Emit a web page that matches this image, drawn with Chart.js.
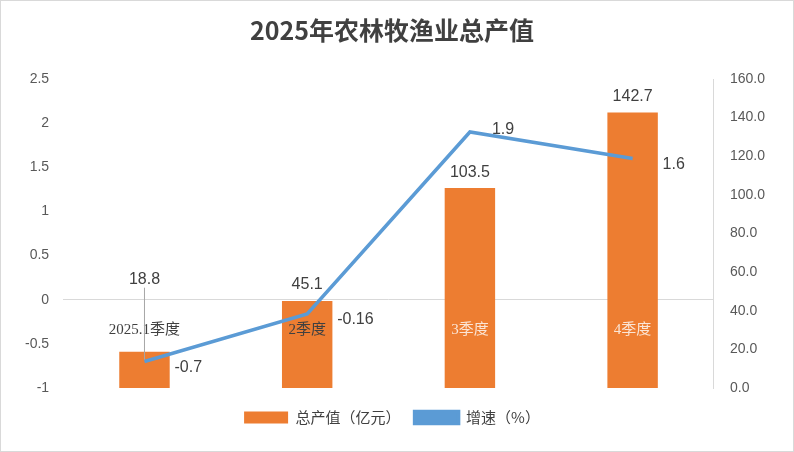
<!DOCTYPE html>
<html><head><meta charset="utf-8">
<script src="https://cdn.jsdelivr.net/npm/chart.js@4"></script>
<style>body{margin:0;background:#fff}#wrap{width:792px;height:450px;border:1px solid #d9d9d9}</style>
</head><body><div id="wrap"><canvas id="c" width="792" height="450"></canvas></div>
<script>
const categories = ['2025.1季度', '2季度', '3季度', '4季度'];
const outputValues = [18.8, 45.1, 103.5, 142.7];
const growthValues = [-0.7, -0.16, 1.9, 1.6];
const growthLabels = ['-0.7', '-0.16', '1.9', '1.6'];

const labelPlugin = {
  id: 'labels',
  afterDatasetsDraw(chart) {
    const ctx = chart.ctx, x = chart.scales.x, yl = chart.scales.yL;
    ctx.save();
    ctx.font = '15px "Liberation Serif", "Noto Sans CJK SC", serif';
    ctx.textAlign = 'center';
    // category names along the zero line
    const y0 = yl.getPixelForValue(0);
    categories.forEach((c, i) => {
      ctx.fillStyle = i >= 2 ? '#fbe5d6' : '#404040';
      ctx.fillText(c, x.getPixelForValue(i), y0 + 30);
    });
    // bar values
    ctx.font = '16px "Liberation Sans", Arial, sans-serif';
    ctx.fillStyle = '#404040';
    chart.getDatasetMeta(0).data.forEach((b, i) => {
      ctx.fillText(outputValues[i].toFixed(1), b.x, i === 0 ? b.y - 72 : b.y - 16);
    });
    // leader line for first bar
    const b0 = chart.getDatasetMeta(0).data[0];
    ctx.strokeStyle = '#a6a6a6'; ctx.lineWidth = 1;
    ctx.beginPath(); ctx.moveTo(b0.x, b0.y - 64); ctx.lineTo(b0.x, b0.y + 8); ctx.stroke();
    // line values
    ctx.textAlign = 'left';
    chart.getDatasetMeta(1).data.forEach((p, i) => {
      ctx.fillText(growthLabels[i], p.x + (i === 2 ? 22 : 30), p.y + (i === 2 ? -2 : 6));
    });
    ctx.restore();
  }
};

new Chart(document.getElementById('c'), {
  data: {
    labels: categories,
    datasets: [
      { type: 'bar', label: '总产值（亿元）', data: outputValues, yAxisID: 'yR',
        backgroundColor: '#ed7d31', barPercentage: 0.62, categoryPercentage: 0.5, order: 2 },
      { type: 'line', label: '增速（%）', data: growthValues, yAxisID: 'yL',
        borderColor: '#5b9bd5', backgroundColor: '#5b9bd5', borderWidth: 3.5,
        pointRadius: 0, tension: 0, order: 1 }
    ]
  },
  plugins: [labelPlugin],
  options: {
    responsive: false, animation: false,
    layout: { padding: { left: 10, right: 20, top: 0, bottom: 16 } },
    plugins: {
      title: { display: true, text: '2025年农林牧渔业总产值', color: '#404040',
        font: { size: 25, weight: 'bold', family: '"Noto Sans CJK SC", sans-serif' }, padding: { top: 14, bottom: 34 } },
      legend: { position: 'bottom', labels: { color: '#404040', boxWidth: 44, boxHeight: 12,
        font: { size: 15, family: '"Noto Sans CJK SC", sans-serif' }, padding: 14,
        sort: (a, b) => a.datasetIndex - b.datasetIndex } },
      tooltip: { enabled: false }
    },
    scales: {
      x: { grid: { display: false }, border: { display: false }, ticks: { display: false } },
      yL: { position: 'left', min: -1, max: 2.5,
        ticks: { stepSize: 0.5, color: '#595959', font: { size: 14 }, padding: 14, callback: v => String(v) },
        grid: { color: ctx => ctx.tick.value === 0 ? '#d9d9d9' : 'rgba(0,0,0,0)', drawTicks: false },
        border: { display: false } },
      yR: { position: 'right', min: 0, max: 160,
        ticks: { stepSize: 20, color: '#595959', font: { size: 14 }, callback: v => v.toFixed(1), padding: 8 },
        grid: { display: false }, border: { display: true, color: '#d9d9d9' } }
    }
  }
});
</script></body></html>
